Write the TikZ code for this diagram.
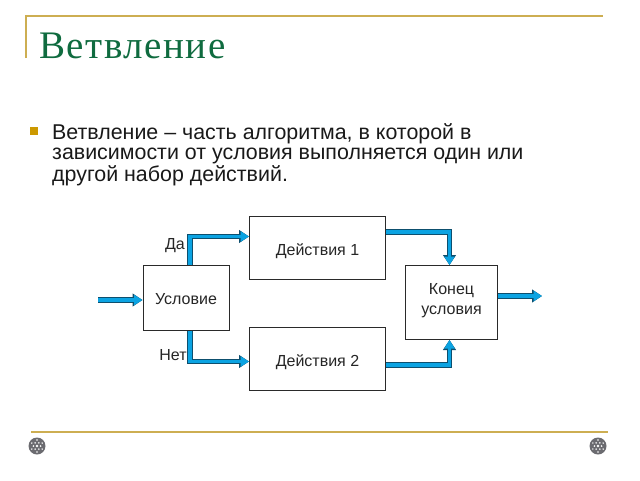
\documentclass[tikz,border=0pt]{standalone}
\usepackage{fontspec}
\setmainfont{Liberation Sans}
\newfontfamily\titlefont[LetterSpace=4]{Liberation Serif}
\usetikzlibrary{arrows.meta, positioning}
\definecolor{framegold}{HTML}{CDAE52}
\definecolor{bulletgold}{HTML}{CC9900}
\definecolor{titlegreen}{HTML}{0F6B3F}
\definecolor{flowblue}{HTML}{0BA3E2}
\definecolor{flowedge}{HTML}{0D4F6E}
\definecolor{boxedge}{HTML}{2A2A2A}
\definecolor{knotgray}{HTML}{6B6B70}

\begin{document}
\begin{tikzpicture}[x=1pt, y=-1pt]
    % Block style
    \tikzstyle{block} = [rectangle, draw=boxedge, line width=1pt, fill=white, align=center, inner sep=0pt, text=black!85, font=\fontsize{16}{20}\selectfont]
    \tikzstyle{flow} = [line width=3.8pt, draw=flowblue, -{Triangle[length=8.5pt, width=10pt, fill=flowblue]},
        preaction={draw=flowedge, line width=5.8pt, -{Triangle[length=10pt, width=12.5pt, fill=flowedge]}}]
    \tikzstyle{rule} = [draw=framegold, line width=1.6pt]
    \tikzstyle{knot} = [circle, fill=knotgray, minimum size=17pt, inner sep=0pt]
    \tikzstyle{label} = [inner sep=0pt, text=black!85, font=\fontsize{16}{18}\selectfont]

    \useasboundingbox (0,0) rectangle (640,480);

    % Slide frame
    \coordinate (rule_a) at (26,58);
    \coordinate (rule_b) at (26,16);
    \coordinate (rule_c) at (603,16);
    \coordinate (rule_d) at (31,432);
    \coordinate (rule_e) at (608,432);
    \draw[rule] (rule_a) -- (rule_b) -- (rule_c);
    \draw[rule] (rule_d) -- (rule_e);

    % Title and text
    \node[anchor=base west, inner sep=0pt, text=titlegreen, font=\fontsize{39}{42}\titlefont] (title) at (39,58) {Ветвление};
    \node[rectangle, fill=bulletgold, minimum size=8pt, inner sep=0pt] (bullet) at (34,131) {};
    \node[anchor=north west, inner sep=0pt, align=left, text=black!90, font=\fontsize{21.4}{20}\selectfont] (text) at (52,123.6)
        {Ветвление – часть алгоритма, в которой в\\зависимости от условия выполняется один или\\другой набор действий.};

    % Blocks
    \node[block, minimum width=86pt, minimum height=65pt, text height=14pt, text depth=0pt] (cond) at (186,297.5) {Условие};
    \node[block, minimum width=136pt, minimum height=63pt, text height=14pt, text depth=0pt, anchor=north west] (act1) at (249,216) {Действия 1};
    \node[block, minimum width=136pt, minimum height=63pt, text height=14pt, text depth=0pt, below=47pt of act1] (act2) {Действия 2};
    \node[block, minimum width=92pt, minimum height=74pt, text depth=7pt, anchor=north west] (end) at (405,265) {Конец\\условия};

    % Labels
    \node[label] (yes) at (175,245.5) {Да};
    \node[label] (no) at (173,355.5) {Нет};

    % Free ends
    \coordinate (start) at (98,300);
    \coordinate (finish) at (542,296);

    % Connections
    \draw[flow] (start) -- (cond.west |- start);
    \draw[flow] ([xshift=4pt]cond.north) |- ([yshift=11.5pt]act1.west);
    \draw[flow] ([xshift=4pt]cond.south) |- ([yshift=-2.5pt]act2.west);
    \draw[flow] ([yshift=16pt]act1.east) -| ([xshift=-2pt]end.north);
    \draw[flow] ([yshift=-6pt]act2.east) -| ([xshift=-2pt]end.south);
    \draw[flow] (end.east |- finish) -- (finish);

    % Corner ornaments
    \foreach \name/\px in {knot_a/37, knot_b/598} {
        \node[knot] (\name) at (\px,446) {};
        \fill[white] (\name) circle (1.3pt);
        \foreach \ang in {0,60,...,300} {
            \fill[white] (\name) ++(\ang:3.6pt) circle (0.9pt);
            \fill[white] (\name) ++(\ang+30:6pt) circle (0.8pt);
        }
    }
\end{tikzpicture}
\end{document}
